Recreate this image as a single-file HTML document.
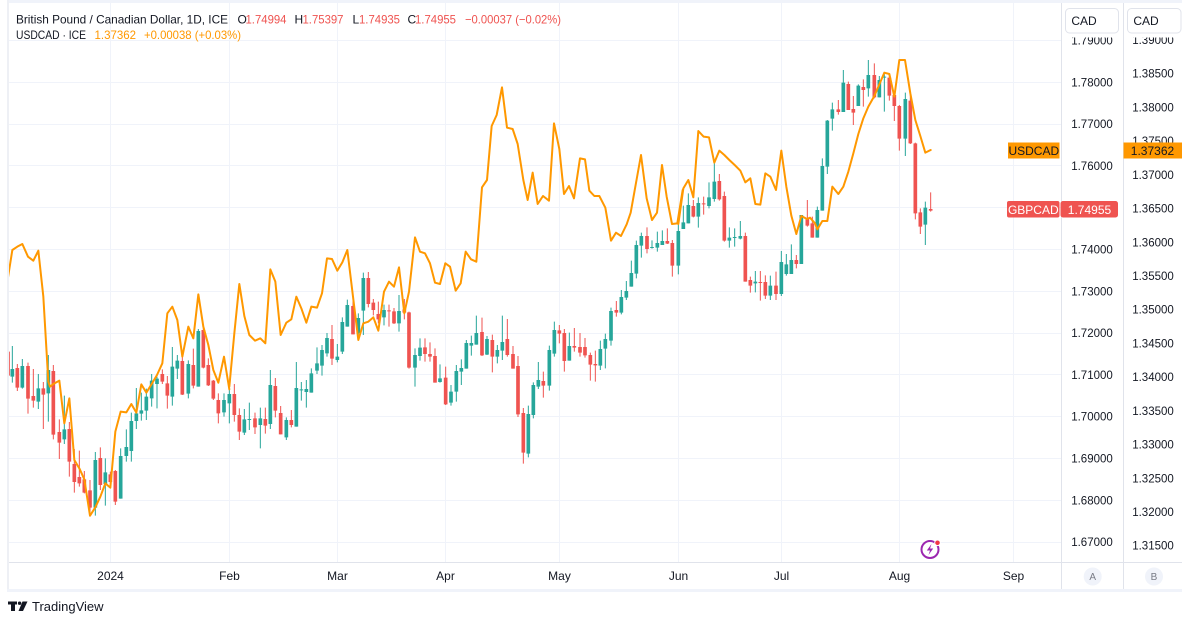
<!DOCTYPE html>
<html><head><meta charset="utf-8"><style>
html,body{margin:0;padding:0;background:#fff;width:1182px;height:622px;overflow:hidden}
svg{display:block;font-family:"Liberation Sans",sans-serif}
.gw{stroke:#26a69a;stroke-width:3;fill:none}
.gb{stroke:#26a69a;stroke-width:11;fill:none}
.rw{stroke:#ef5350;stroke-width:3;fill:none}
.rb{stroke:#ef5350;stroke-width:11;fill:none}
.ol{stroke:#ff9800;stroke-width:6;fill:none;stroke-linejoin:round;stroke-linecap:round}
.ax{font-size:11.5px;fill:#131722;text-anchor:middle}
.tx{font-size:12px;fill:#131722;text-anchor:middle}
</style></head><body>
<svg width="1182" height="622" viewBox="0 0 1182 622" xmlns="http://www.w3.org/2000/svg">
<defs><clipPath id="cp"><rect x="9" y="3" width="1052.5" height="559"/></clipPath></defs>
<rect x="0" y="0" width="1182" height="622" fill="#fff"/>
<rect x="7" y="0" width="1175" height="3" fill="#f0f3fa"/>
<rect x="7" y="0" width="2" height="592" fill="#eef0f5"/>
<rect x="7" y="589" width="1175" height="3" fill="#f0f3fa"/>
<g stroke="#f0f3fa" stroke-width="1">
<path d="M9 40.5H1061M9 82.5H1061M9 124.5H1061M9 165.5H1061M9 207.5H1061M9 249.5H1061M9 291.5H1061M9 333.5H1061M9 374.5H1061M9 416.5H1061M9 458.5H1061M9 500.5H1061M9 542.5H1061"/>
<path d="M110.5 3V562M229.5 3V562M337.5 3V562M445.5 3V562M559.5 3V562M678.5 3V562M781.5 3V562M899.5 3V562M1013.5 3V562"/>
</g>
<g clip-path="url(#cp)">
<g transform="translate(0,230) scale(0.333333)">
<path class="gw" d="M37 348V458M67 387V476M115 432V537M145 375V575M193 497V642M286 666V857M316 685V827M362 655V806M379 598V695M394 548V695M409 474V597M424 488V572M439 476V570M455 432V530M471 440V535M517 351V527M532 375V447M565 391V505M595 297V470M672 490V560"/>
<path class="gb" d="M37 417V440M67 408V473M115 475V515M145 420V490M193 598V628M286 690V833M316 727V762M362 678V806M379 651V678M394 573V663M409 550V573M424 541V551M439 500V542M455 452V505M471 446V462M517 410V500M532 392V416M565 402V491M595 303V470M672 510V547"/>
<path class="rw" d="M24 365V437M52 402V483M84 398V551M100 417V533M130 456V597M160 405V628M178 568V687M208 576V740M223 657V788M238 662V770M253 723V790M270 750V860M301 652V780M331 725V763M346 720V825M487 418V462M502 438V536M547 375V495M580 356V475M610 282V415M625 385V468M640 450V510M655 490V580"/>
<path class="rb" d="M24 365V437M52 414V473M84 408V506M100 498V512M130 475V494M160 423V614M178 606V638M208 597V695M223 702V756M238 741V760M253 748V788M270 781V833M301 684V765M331 733V756M346 723V815M487 432V455M502 460V497M547 393V494M580 405V467M610 300V413M625 405V466M640 452V506M655 510V550"/>
</g>
<g transform="translate(225,230) scale(0.333333)">
<path class="gw" d="M13 478V580M58 537V615M73 518V600M106 533V655M136 420V597M184 562V630M214 396V590M229 456V512M244 450V533M259 415V488M276 352V432M291 345V437M306 309V380M337 342V397M352 262V372M367 209V290M400 250V328M415 128V315M477 224V286M522 195V305M570 355V470M585 325V392M645 403V458"/>
<path class="gb" d="M13 492V520M58 568V608M73 567V570M106 565V585M136 465V582M184 570V622M214 474V590M229 478V481M244 477V486M259 430V488M276 400V422M291 360V407M306 324V370M337 380V390M352 276V365M367 225V290M400 264V310M415 144V242M477 240V262M522 243V280M570 375V413M585 353V378M645 445V456"/>
<path class="rw" d="M28 462V575M43 535V630M90 548V612M121 533V611M151 444V562M167 528V613M199 540V592M321 285V405M384 193V313M430 126V232M445 207V256M460 215V280M492 224V290M507 234V282M538 207V268M552 245V416M600 325V395M615 337V395M630 355V458"/>
<path class="rb" d="M28 492V555M43 555V605M90 565V592M121 567V587M151 468V542M167 549V613M199 570V585M321 327V386M384 228V313M430 144V222M445 218V240M460 252V268M492 241V244M507 244V280M538 238V248M552 247V413M600 352V372M615 372V380M630 378V458"/>
</g>
<g transform="translate(445,170) scale(0.333333)">
<path class="gw" d="M18 645V707M34 585V695M49 568V645M64 510V596M79 497V557M94 437V524M126 498V555M157 525V580M172 437V570M250 707V862M265 637V745M280 576V657M313 527V662M328 455V560M373 488V572M466 512V600M481 491V595M498 413V527M529 360V433M544 333V390M559 272V350M574 212V325M589 188V263M621 211V236M637 185V245M652 181V225"/>
<path class="gb" d="M18 665V698M34 603V665M49 594V605M64 519V596M79 519V527M94 489V524M126 507V554M157 540V560M172 516V542M250 732V851M265 645V735M280 630V650M313 540V647M328 480V551M373 528V572M466 537V587M481 507V536M498 423V512M529 381V428M544 363V383M559 309V350M574 225V311M589 198V227M621 231V234M637 219V233M652 213V225"/>
<path class="rw" d="M2 590V705M111 443V558M142 494V607M187 447V560M204 528V596M219 558V741M235 714V881M295 605V683M343 465V520M358 477V605M388 474V545M405 489V560M420 504V563M436 548V632M451 542V635M514 393V440M606 172V250M667 175V222M682 210V320"/>
<path class="rb" d="M2 623V703M111 486V556M142 510V560M187 507V555M204 552V596M219 588V733M235 729V848M295 633V647M343 481V491M358 489V573M388 528V533M405 531V548M420 531V556M436 555V584M451 582V586M514 420V428M606 198V237M667 213V221M682 219V287"/>
</g>
<g transform="translate(675,120) scale(0.333333)">
<path class="gw" d="M10 305V463M25 257V327M40 220V310M70 232V323M102 187V265M118 130V245M163 322V383M179 325V380M196 303V358M241 453V517M286 467V540M319 393V528M334 402V467M349 373V462M379 285V432"/>
<path class="gb" d="M10 333V437M25 307V327M40 255V310M70 249V290M102 232V258M118 185V237M163 353V362M179 351V354M196 348V356M241 485V490M286 497V527M319 426V522M334 433V462M349 420V462M379 285V432"/>
<path class="rw" d="M55 240V292M86 230V284M133 162V242M148 215V365M211 338V485M226 470V518M256 453V542M271 466V537M303 455V540M364 405V445"/>
<path class="rb" d="M55 258V290M86 250V253M133 183V238M148 228V362M211 348V485M226 480V497M256 486V489M271 486V527M303 497V522M364 420V432"/>
</g>
<g transform="translate(805,50) scale(0.333333)">
<path class="gw" d="M37 470V563M52 325V482M67 210V372M82 158V242M115 60V186M160 103V168M190 30V140M223 78V142M238 70V185M301 128V318M361 455V585"/>
<path class="gb" d="M37 480V563M52 348V482M67 212V350M82 178V206M115 98V186M160 107V168M190 75V115M223 90V142M238 80V83M301 147V266M361 473V524"/>
<path class="rw" d="M7 450V530M22 500V563M100 150V194M130 95V180M145 138V225M175 88V170M208 40V145M253 70V152M268 127V213M283 165V302M316 130V282M331 278V508M346 475V552M377 427V485"/>
<path class="rb" d="M7 505V527M22 520V563M100 178V186M130 102V180M145 177V188M175 111V120M208 75V142M253 83V137M268 135V168M283 168V266M316 152V280M331 280V490M346 487V530M377 477V482"/>
</g>
<g transform="translate(0,230) scale(0.333333)"><polyline class="ol" points="22,155 37,60 52,50 67,42 84,80 100,92 115,62 130,200 145,455 150,470 160,462 178,452 193,580 208,505 223,690 238,715 253,748 270,857 286,832 301,800 316,760 331,773 346,605 362,545 379,547 394,522 409,548 424,463 439,488 455,462 471,435 487,400 502,250 517,230 532,270 547,380 565,290 580,325 595,193 610,290 625,345 640,420 655,458 672,380 688,478"/></g>
<g transform="translate(225,230) scale(0.333333)"><polyline class="ol" points="13,470 28,310 43,162 58,258 73,315 90,332 106,325 121,340 136,118 151,155 167,315 184,278 199,268 214,200 229,235 244,278 259,230 276,233 291,190 306,85 321,87 337,122 352,97 367,60 384,200 400,330 415,280 430,275 445,262 460,302 477,185 492,155 507,170 522,112 538,250 552,185 570,22 585,65 600,70 615,100 630,158 645,162 661,100"/></g>
<g transform="translate(445,170) scale(0.333333)"><polyline class="ol" points="1,280 15,290 32,362 47,340 62,245 78,268 94,275 111,52 126,30 140,-132 155,-165 171,-248 186,-127 203,-123 218,-78 235,30 248,90 263,8 278,102 294,78 312,92 327,-140 343,-63 357,72 372,48 387,85 405,-35 420,-32 433,62 448,78 463,78 481,113 498,212 513,188 528,198 545,163 557,128 588,-45 605,85 621,150 636,128 651,-15 665,80 681,162 697,160 713,60"/></g>
<g transform="translate(675,120) scale(0.333333)"><polyline class="ol" points="10,312 25,205 40,180 55,232 70,33 86,50 102,52 118,128 133,92 148,105 163,120 179,135 196,152 211,187 226,175 241,252 256,254 271,160 286,170 303,210 319,92 334,200 349,287 364,342 379,288 396,297"/></g>
<g transform="translate(805,50) scale(0.333333)"><polyline class="ol" points="6,507 15,503 30,520 37,538 52,513 67,513 82,410 100,432 115,410 130,365 145,310 160,252 175,205 190,170 208,138 223,103 238,68 253,72 268,140 283,30 300,30 316,130 331,210 346,258 361,308 377,300"/></g>
</g>
<circle cx="930" cy="549.5" r="8.5" fill="#fff" stroke="#9c27b0" stroke-width="2"/>
<path d="M931.5 544 L926.8 550.5 L930 550.5 L928.5 555 L933.2 548.5 L930 548.5 Z" fill="#9c27b0"/>
<circle cx="937.5" cy="542.8" r="2.8" fill="#f23645" stroke="#fff" stroke-width="1"/>
<path d="M1061.5 3V589M1123.5 3V589" stroke="#e0e3eb" stroke-width="1"/>
<path d="M9 562.5H1182" stroke="#e0e3eb" stroke-width="1"/>
<g class="ax">
<text x="1092" y="44.5">1.79000</text>
<text x="1092" y="86.3">1.78000</text>
<text x="1092" y="128.1">1.77000</text>
<text x="1092" y="169.9">1.76000</text>
<text x="1092" y="211.7">1.75000</text>
<text x="1092" y="253.5">1.74000</text>
<text x="1092" y="295.3">1.73000</text>
<text x="1092" y="337.1">1.72000</text>
<text x="1092" y="378.9">1.71000</text>
<text x="1092" y="420.7">1.70000</text>
<text x="1092" y="462.5">1.69000</text>
<text x="1092" y="504.3">1.68000</text>
<text x="1092" y="546.1">1.67000</text>
</g>
<g class="ax">
<text x="1153" y="44">1.39000</text>
<text x="1153" y="77.7">1.38500</text>
<text x="1153" y="111.4">1.38000</text>
<text x="1153" y="145.2">1.37500</text>
<text x="1153" y="178.8">1.37000</text>
<text x="1153" y="212.6">1.36500</text>
<text x="1153" y="246.3">1.36000</text>
<text x="1153" y="280">1.35500</text>
<text x="1153" y="313.7">1.35000</text>
<text x="1153" y="347.4">1.34500</text>
<text x="1153" y="381.1">1.34000</text>
<text x="1153" y="414.9">1.33500</text>
<text x="1153" y="448.6">1.33000</text>
<text x="1153" y="482.3">1.32500</text>
<text x="1153" y="516">1.32000</text>
<text x="1153" y="549.7">1.31500</text>
</g>
<rect x="1062" y="3" width="61" height="34.5" fill="#fff"/>
<rect x="1124" y="3" width="58" height="34.5" fill="#fff"/>
<rect x="1065.5" y="8.5" width="53" height="24.5" rx="4" fill="#fff" stroke="#e0e3eb"/>
<rect x="1127.5" y="8.5" width="53.5" height="24.5" rx="4" fill="#fff" stroke="#e0e3eb"/>
<text x="1084" y="25" style="font-size:12px;fill:#131722;text-anchor:middle">CAD</text>
<text x="1146" y="25" style="font-size:12px;fill:#131722;text-anchor:middle">CAD</text>
<rect x="1008" y="142.5" width="51.5" height="16" fill="#ff9800"/>
<text x="1033.8" y="155" style="font-size:12px;fill:#131722;text-anchor:middle">USDCAD</text>
<rect x="1123.5" y="142.5" width="58.5" height="16" fill="#ff9800"/>
<text x="1152.5" y="155" style="font-size:12px;fill:#131722;text-anchor:middle">1.37362</text>
<rect x="1007" y="201" width="52.5" height="16.5" rx="2" fill="#ef5350"/>
<text x="1033.3" y="213.8" style="font-size:12px;fill:#fff;text-anchor:middle">GBPCAD</text>
<rect x="1060.5" y="201" width="57.5" height="16.5" rx="2.5" fill="#ef5350"/>
<text x="1089.5" y="213.8" style="font-size:12px;fill:#fff;text-anchor:middle">1.74955</text>
<g class="tx">
<text x="110.5" y="580">2024</text>
<text x="229.5" y="580">Feb</text>
<text x="337.5" y="580">Mar</text>
<text x="445.5" y="580">Apr</text>
<text x="559.5" y="580">May</text>
<text x="678.5" y="580">Jun</text>
<text x="781.5" y="580">Jul</text>
<text x="899.5" y="580">Aug</text>
<text x="1013.5" y="580">Sep</text>
</g>
<circle cx="1092.7" cy="576.5" r="9" fill="#f0f3fa"/>
<text x="1092.7" y="580" style="font-size:10px;fill:#787b86;text-anchor:middle">A</text>
<circle cx="1154" cy="576.5" r="9" fill="#f0f3fa"/>
<text x="1154" y="580" style="font-size:10px;fill:#787b86;text-anchor:middle">B</text>
<g style="font-size:12px">
<text x="16" y="23.5" fill="#131722" textLength="212" lengthAdjust="spacingAndGlyphs">British Pound / Canadian Dollar, 1D, ICE</text>
<text x="237.5" y="23.5" fill="#131722">O</text>
<text x="245.5" y="23.5" fill="#ef5350" textLength="41" lengthAdjust="spacingAndGlyphs">1.74994</text>
<text x="294.5" y="23.5" fill="#131722">H</text>
<text x="302.5" y="23.5" fill="#ef5350" textLength="41" lengthAdjust="spacingAndGlyphs">1.75397</text>
<text x="352.5" y="23.5" fill="#131722">L</text>
<text x="359" y="23.5" fill="#ef5350" textLength="41" lengthAdjust="spacingAndGlyphs">1.74935</text>
<text x="407.5" y="23.5" fill="#131722">C</text>
<text x="415" y="23.5" fill="#ef5350" textLength="41" lengthAdjust="spacingAndGlyphs">1.74955</text>
<text x="465" y="23.5" fill="#ef5350" textLength="96" lengthAdjust="spacingAndGlyphs">−0.00037 (−0.02%)</text>
<text x="16" y="39" fill="#131722" textLength="70" lengthAdjust="spacingAndGlyphs">USDCAD · ICE</text>
<text x="94.5" y="39" fill="#ff9800" textLength="41.5" lengthAdjust="spacingAndGlyphs">1.37362</text>
<text x="144" y="39" fill="#ff9800" textLength="97" lengthAdjust="spacingAndGlyphs">+0.00038 (+0.03%)</text>
</g>
<g fill="#131722">
<path d="M8 601.5H17V604.5H15V611H11V604.5H8Z"/>
<circle cx="19.6" cy="603.2" r="1.7"/>
<path d="M22.5 601.5H27.5L23 611H18.5Z"/>
</g>
<text x="32" y="611" style="font-size:13px;fill:#131722">TradingView</text>
</svg>
</body></html>
